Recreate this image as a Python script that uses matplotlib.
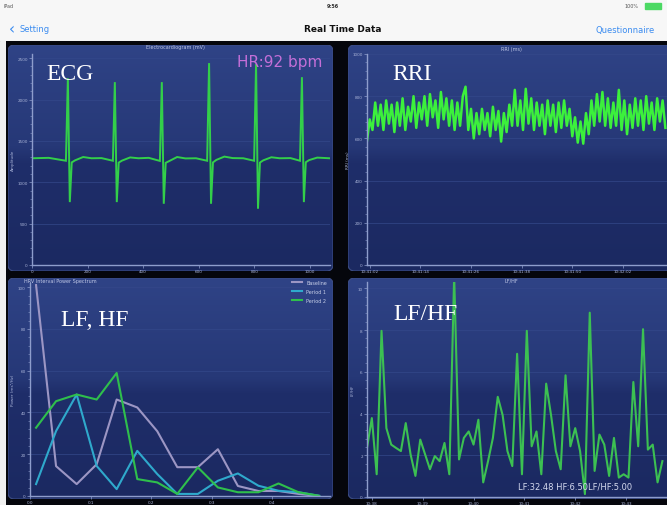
import numpy as np
import matplotlib
matplotlib.use("Agg")
import matplotlib.pyplot as plt
from matplotlib.patches import FancyBboxPatch, Rectangle
from matplotlib.colors import LinearSegmentedColormap
from matplotlib.ticker import AutoMinorLocator

# ---------------- data ----------------
ecg_t = [0, 60, 122, 129, 136, 143, 155, 184, 214,
         250, 291, 298, 305, 312, 324, 353, 383,
         420, 460, 467, 474, 481, 493, 522, 552,
         590, 630, 637, 644, 651, 663, 692, 722,
         760, 799, 806, 813, 820, 832, 861, 891,
         930, 964, 971, 978, 985, 997, 1026, 1070]
ecg_v = [1290, 1295, 1260, 2258, 760, 1240, 1265, 1305, 1290,
         1292, 1260, 2210, 760, 1238, 1262, 1300, 1290,
         1295, 1258, 2210, 740, 1235, 1255, 1305, 1288,
         1290, 1260, 2440, 740, 1240, 1270, 1310, 1292,
         1290, 1260, 2428, 680, 1238, 1265, 1302, 1290,
         1292, 1260, 2270, 760, 1242, 1268, 1298, 1290]
ecg_xticks = [0, 200, 400, 600, 800, 1000]
ecg_yticks = [0, 500, 1000, 1500, 2000, 2500]

rri_ms = [590, 690, 640, 770, 660, 760, 640, 780, 670, 760,
          630, 770, 660, 790, 640, 750, 680, 800, 650, 770,
          690, 800, 660, 810, 700, 780, 650, 820, 690, 790,
          660, 780, 640, 770, 660, 800, 845, 640, 740, 600,
          720, 620, 740, 640, 720, 610, 750, 640, 730, 585,
          720, 630, 760, 660, 830, 660, 780, 640, 835, 670,
          790, 640, 770, 660, 760, 620, 780, 660, 760, 630,
          770, 650, 780, 660, 740, 610, 700, 580, 680, 575,
          720, 620, 780, 660, 810, 680, 820, 660, 790, 650,
          770, 660, 830, 640, 780, 620, 760, 650, 790, 660,
          780, 640, 800, 670, 770, 640, 790, 680, 780, 650]
rri_xlabels = ["10:41:02", "10:41:14", "10:41:26", "10:41:38", "10:41:50", "10:42:02"]
rri_yticks = [0, 200, 400, 600, 800, 1000]

spec_freq = [0.010, 0.043, 0.077, 0.110, 0.143, 0.177, 0.210, 0.243,
             0.277, 0.310, 0.343, 0.377, 0.410, 0.443, 0.477]
spec_base = [101, 14.3, 5.7, 15.2, 46.2, 42.4, 31, 13.8, 13.8, 22.4, 4.8, 2.4, 2.4, 1, 0]
spec_p1 = [5.7, 31.1, 48.6, 14.4, 3.3, 21.6, 10.5, 1, 1, 7.3, 10.8, 4.9, 2.5, 1.8, 0.1]
spec_p2 = [32.7, 45.4, 48.6, 46.2, 58.9, 8.1, 6.5, 1, 13.7, 4.1, 1.8, 1.8, 6, 1.8, 0.1]
spec_names = ["Baseline", "Period 1", "Period 2"]
spec_xticks = [0.0, 0.1, 0.2, 0.3, 0.4]
spec_yticks = [0, 20, 40, 60, 80, 100]

lfhf = [2.35, 3.78, 1.09, 7.96, 3.30, 2.51, 2.35, 2.20, 3.54, 2.04,
        1.01, 2.75, 2.04, 1.33, 1.96, 1.72, 2.59, 1.09, 10.6, 1.80,
        2.83, 3.14, 2.51, 3.70, 0.70, 1.72, 2.83, 4.80, 3.93,
        2.20, 1.48, 6.86, 1.09, 7.96, 2.43, 3.14, 1.09, 5.43, 3.93,
        2.20, 1.33, 5.83, 2.43, 3.30, 2.20, 0.14, 8.83, 1.25, 2.99,
        2.51, 1.01, 2.83, 0.93, 1.09, 0.93, 5.51, 2.43, 8.04, 2.27,
        2.51, 0.70, 1.72]
lfhf_xlabels = ["10:38", "10:39", "10:40", "10:41", "10:42", "10:43"]
lfhf_yticks = [0, 2, 4, 6, 8, 10]

# ---------------- layout helpers ----------------
W, H = 667, 506
fig = plt.figure(figsize=(W / 100, H / 100), dpi=100)
fig.patch.set_facecolor("#05060c")


def rect(x0, y0, x1, y1):
    return [x0 / W, 1 - y1 / H, (x1 - x0) / W, (y1 - y0) / H]


def ftext(x, y, s, **kw):
    fig.text(x / W, 1 - y / H, s, **kw)


# left white strip
strip = fig.add_axes(rect(0, 42, 6, H))
strip.axis("off")
strip.add_patch(Rectangle((0, 0), 1, 1, color="#f0f0f0", transform=strip.transAxes))

# header
hdr = fig.add_axes(rect(0, 0, W, 42))
hdr.set_xlim(0, 1); hdr.set_ylim(0, 1); hdr.axis("off")
hdr.add_patch(Rectangle((0, 0), 1, 1, color="#f7f7f7", transform=hdr.transAxes))
hdr.axhline(0.01, color="#b8b8b8", lw=0.8)

ftext(4, 7, "iPad", fontsize=3.5, color="#555555", va="center")
ftext(333, 7, "9:56", fontsize=3.5, color="#333333", va="center", ha="center", weight="bold")
ftext(638, 7, "100%", fontsize=3.5, color="#555555", va="center", ha="right")
fig.patches.append(Rectangle((645 / W, 1 - 10 / H), 16 / W, 6 / H, transform=fig.transFigure,
                             color="#4cd964", zorder=3))
ftext(9, 30, "\u2039", fontsize=11, color="#3b8cf0", va="center")
ftext(20, 30, "Setting", fontsize=6, color="#3b8cf0", va="center")
ftext(343, 30, "Real Time Data", fontsize=6.5, color="#111111", va="center", ha="center",
      weight="bold")
ftext(596, 30, "Questionnaire", fontsize=6, color="#3b8cf0", va="center")

# panel gradient colormap (0 = top)
cmap = LinearSegmentedColormap.from_list(
    "pnl", [(0.0, "#2f4386"), (0.45, "#263877"), (0.52, "#1f2e6a"), (1.0, "#1b2961")])
grad = np.linspace(0, 1, 256).reshape(-1, 1)


def panel(x0, y0, x1, y1):
    bg = fig.add_axes(rect(x0, y0, x1, y1))
    bg.axis("off")
    bg.set_xlim(0, 1); bg.set_ylim(0, 1)
    im = bg.imshow(grad, cmap=cmap, aspect="auto", extent=[0, 1, 0, 1], origin="upper")
    box = FancyBboxPatch((0, 0), 1, 1, boxstyle="round,pad=0,rounding_size=0.02",
                         mutation_aspect=(x1 - x0) / (y1 - y0),
                         transform=bg.transAxes, facecolor="none",
                         edgecolor="#3d4e88", lw=0.8)
    bg.add_patch(box)
    im.set_clip_path(box)
    return bg


panel(8, 46, 333, 272)
panel(348, 46, 690, 272)
panel(8, 279, 333, 500)
panel(348, 279, 690, 500)

AX = "#8e9dcc"
LAB = "#aab4d8"


def style(ax, ylabel):
    ax.set_facecolor("none")
    for s in ["top", "right"]:
        ax.spines[s].set_visible(False)
    for s in ["left", "bottom"]:
        ax.spines[s].set_color(AX)
        ax.spines[s].set_linewidth(1.0)
    ax.tick_params(colors=AX, labelcolor=LAB, labelsize=3, length=2, width=0.5, pad=1)
    ax.yaxis.set_minor_locator(AutoMinorLocator(5))
    ax.tick_params(which="minor", colors=AX, length=1.2, width=0.4)
    ax.grid(axis="y", color="#34488a", lw=0.5)
    ax.set_axisbelow(True)
    ax.set_ylabel(ylabel, fontsize=3, color=LAB, labelpad=2)


# ECG
ax1 = fig.add_axes(rect(32, 55, 330, 266))
style(ax1, "Amplitude")
ax1.plot(ecg_t, ecg_v, color="#33cf4a", lw=1.4, solid_joinstyle="miter")
ax1.set_xlim(0, 1072); ax1.set_ylim(0, 2550)
ax1.set_xticks(ecg_xticks); ax1.set_yticks(ecg_yticks)
ftext(175, 48, "Electrocardiogram (mV)", fontsize=3.5, color="#c0c8e6", ha="center", va="center")
ftext(280, 62, "HR:92 bpm", fontsize=11, color="#c46fd8", ha="center", va="center")
ftext(70, 75, "ECG", fontsize=17, color="white", family="Liberation Serif", ha="center", va="center")

# RRI
ax2 = fig.add_axes(rect(367, 55, 690, 266))
style(ax2, "RRI (ms)")
ax2.plot(np.arange(len(rri_ms)), rri_ms, color="#3cf03c", lw=1.8)
ax2.set_xlim(0, 118); ax2.set_ylim(0, 1000)
ax2.set_yticks(rri_yticks)
ax2.set_xticks(np.arange(1, 110, 18.5)); ax2.set_xticklabels(rri_xlabels)
ftext(511, 49, "RRI (ms)", fontsize=3.5, color="#c0c8e6", ha="center", va="center")
ftext(412, 75, "RRI", fontsize=17, color="white", family="Liberation Serif", ha="center", va="center")

# LF, HF spectrum
ax3 = fig.add_axes(rect(30, 284, 330, 497))
style(ax3, "Power (ms\u00b2/Hz)")
ax3.plot(spec_freq, spec_base, color="#9c96c4", lw=1.5, label=spec_names[0])
ax3.plot(spec_freq, spec_p1, color="#2fa9cc", lw=1.5, label=spec_names[1])
ax3.plot(spec_freq, spec_p2, color="#2fbf4c", lw=1.5, label=spec_names[2])
ax3.set_xlim(0, 0.495); ax3.set_ylim(0, 102)
ax3.set_xticks(spec_xticks); ax3.set_yticks(spec_yticks)
leg = ax3.legend(loc="upper right", bbox_to_anchor=(329 / W, 1 - 279 / H),
                 bbox_transform=fig.transFigure, frameon=False, fontsize=3.5,
                 handlelength=2.2, labelspacing=0.8, borderaxespad=0)
for t in leg.get_texts():
    t.set_color("#c8cfe8")
ftext(60, 281, "HRV Interval Power Spectrum", fontsize=3.5, color="#c0c8e6", ha="center",
      va="center")
ftext(95, 320, "LF, HF", fontsize=17, color="white", family="Liberation Serif", ha="center",
      va="center")

# LF/HF
ax4 = fig.add_axes(rect(367, 283, 690, 498))
style(ax4, "LF/HF")
ax4.plot(np.arange(len(lfhf)), lfhf, color="#3cc052", lw=1.5)
ax4.set_xlim(0, 66.7); ax4.set_ylim(0, 10.3)
ax4.set_yticks(lfhf_yticks)
ax4.set_xticks(np.arange(1, 63, 10.5)); ax4.set_xticklabels(lfhf_xlabels)
ftext(511, 281, "LF/HF", fontsize=3.5, color="#c0c8e6", ha="center", va="center")
ftext(425, 315, "LF/HF", fontsize=17, color="white", family="Liberation Serif", ha="center",
      va="center")
ftext(575, 487, "LF:32.48 HF:6.50LF/HF:5.00", fontsize=6, color="#d4d9ee", ha="center",
      va="center")

fig.savefig("out.png", dpi=100, facecolor=fig.get_facecolor())
